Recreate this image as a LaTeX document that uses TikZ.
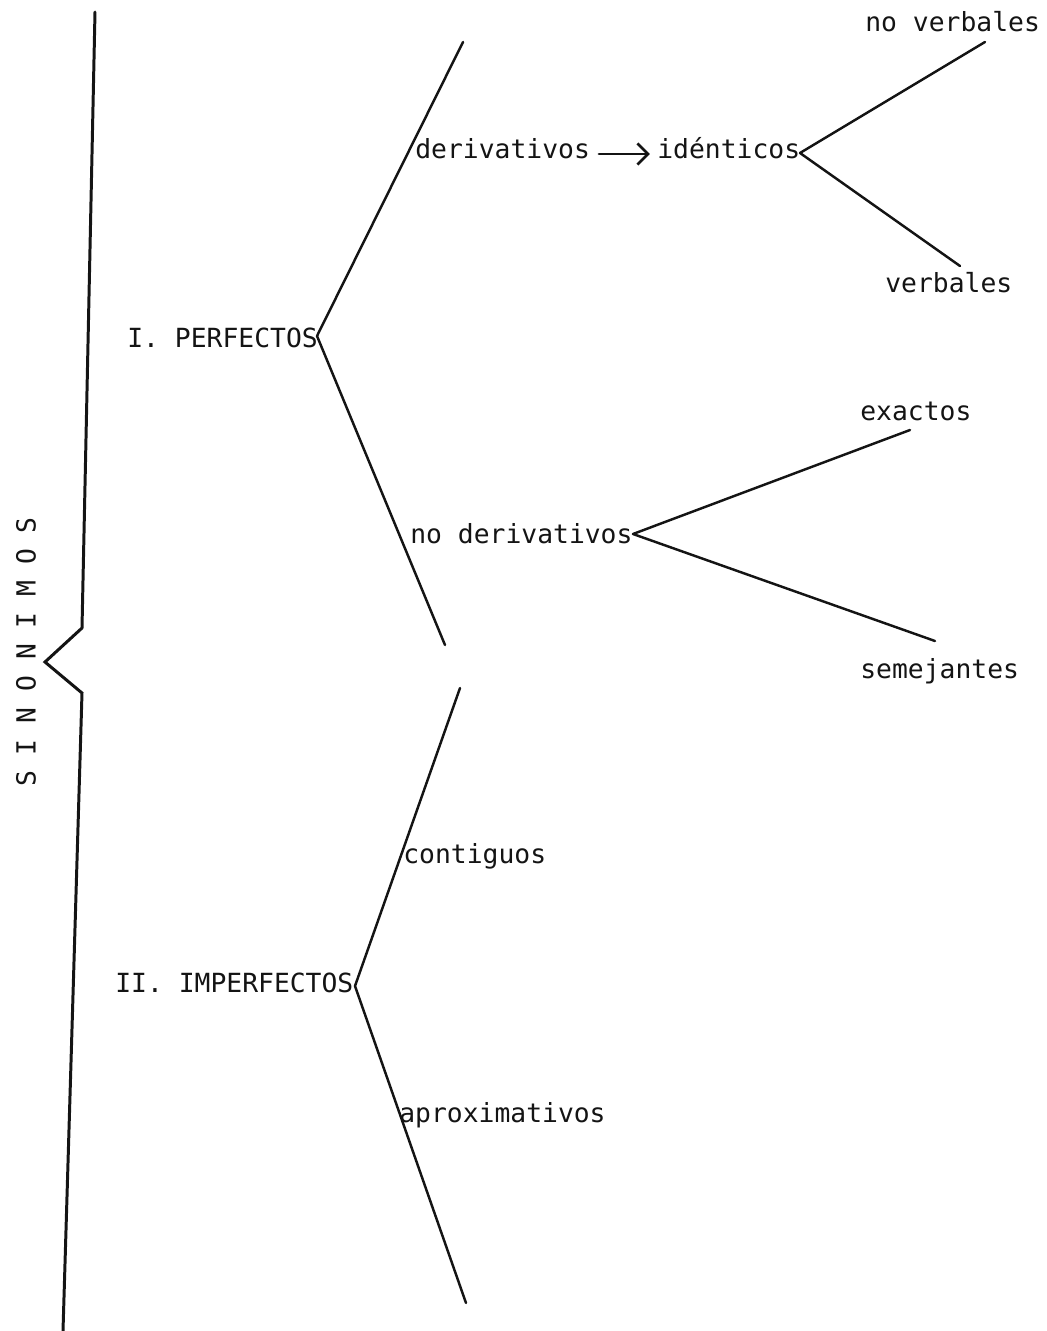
\documentclass[tikz,border=0pt]{standalone}
\usepackage{fontspec}
\setmonofont{DejaVu Sans Mono}
\usetikzlibrary{arrows.meta, calc}
\definecolor{typeink}{RGB}{20, 20, 20}
\tikzset{
 lbl/.style={typeink, font=\ttfamily\fontsize{15}{18}\selectfont, inner sep=0pt, anchor=base west},
 branch/.style={typeink, line width=1.4pt, line cap=round},
 bigbrace/.style={typeink, line width=1.7pt, line join=miter, line cap=round}
}

\begin{document}
\begin{tikzpicture}[x=0.02cm, y=-0.02cm]
 \useasboundingbox (0,0) rectangle (1047,1331);

 % Left brace with its notch
 \coordinate (bracetop) at (95,12);
 \coordinate (bracehi) at (82,628);
 \coordinate (bracetip) at (45,662);
 \coordinate (bracelo) at (82,693);
 \coordinate (bracebot) at (63,1331);
 \draw[bigbrace] (bracetop) -- (bracehi) -- (bracetip) -- (bracelo) -- (bracebot);
 \node[lbl, anchor=center, rotate=90] (sinon) at (26,652) {S I N O N I M O S};

 % I. Perfectos
 \node[lbl] (perf) at (127,347) {I. PERFECTOS};
 \coordinate (perfv) at (317,336);
 \coordinate (perfup) at (463,42);
 \coordinate (perflow) at (445,645);
 \draw[branch] (perfv) -- (perfup);
 \draw[branch] (perfv) -- (perflow);

 \node[lbl] (deriv) at (415,159) {derivativos};
 \node[lbl] (ident) at (657,159) {idénticos};
 \draw[branch, line width=1.6pt, -{Straight Barb[length=6pt, width=12pt]}, shorten <=5pt, shorten >=4pt]
  ($(deriv.base east)+(0,-5)$) -- ($(ident.base west)+(0,-5)$);
 \coordinate (identv) at (800,153);
 \coordinate (identup) at (985,42);
 \coordinate (identlow) at (960,266);
 \draw[branch] (identv) -- (identup);
 \draw[branch] (identv) -- (identlow);
 \node[lbl] (noverb) at (865,32) {no verbales};
 \node[lbl] (verb) at (885,292) {verbales};

 \node[lbl] (noderiv) at (410,543) {no derivativos};
 \coordinate (noderivv) at (633,534);
 \coordinate (noderivup) at (910,430);
 \coordinate (noderivlow) at (935,641);
 \draw[branch] (noderivv) -- (noderivup);
 \draw[branch] (noderivv) -- (noderivlow);
 \node[lbl] (exact) at (860,420) {exactos};
 \node[lbl] (semej) at (860,678) {semejantes};

 % II. Imperfectos
 \node[lbl] (imperf) at (115,992) {II. IMPERFECTOS};
 \coordinate (imperfv) at (355,986);
 \coordinate (imperfup) at (460,688);
 \coordinate (imperflow) at (466,1303);
 \draw[branch] (imperfv) -- (imperfup);
 \draw[branch] (imperfv) -- (imperflow);
 \node[lbl] (contig) at (403,863) {contiguos};
 \node[lbl] (aprox) at (399,1122) {aproximativos};
\end{tikzpicture}
\end{document}
